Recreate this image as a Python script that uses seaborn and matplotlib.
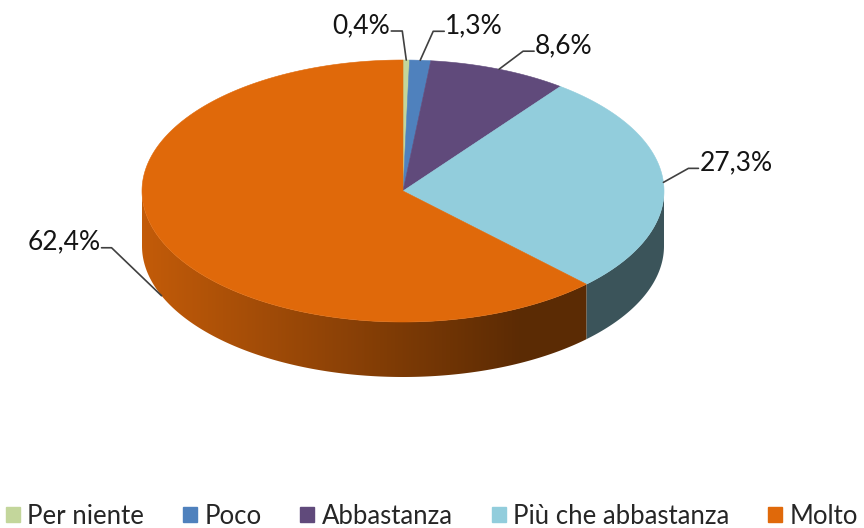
import numpy as np
import seaborn as sns
import matplotlib.pyplot as plt
from matplotlib.colors import to_rgb
from matplotlib.patches import Polygon, Patch

categories = ["Per niente", "Poco", "Abbastanza", "Più che abbastanza", "Molto"]
values = [0.4, 1.3, 8.6, 27.3, 62.4]
labels = ["0,4%", "1,3%", "8,6%", "27,3%", "62,4%"]
colors = ["#C3D69B", "#4F81BD", "#604A7B", "#92CDDC", "#E0690A"]

sns.set_style("white")
plt.rcParams["font.family"] = ["Lato", "DejaVu Sans"]

# ellipse geometry in pixel space
cx, cy, rx, ry, depth = 403, 191, 261, 131, 55
# leader elbow offsets (dx, dy) and horizontal tail, per label
elbows = [(-4, -29, -11), (13, -29, 11), (24, -18, 11), (25, -14, 10), (-50, -48, -10)]

fig = plt.figure(figsize=(8.64, 5.28), dpi=100)
ax = fig.add_axes([0, 0, 1, 1])
ax.set_xlim(0, 864)
ax.set_ylim(528, 0)
ax.axis("off")


def pt(theta, dy=0):
    t = np.radians(theta)
    return cx + rx * np.sin(t), cy - ry * np.cos(t) + dy


bounds = np.concatenate([[0], np.cumsum(values)]) / sum(values) * 360

# side walls (front half, 90..270 deg) with horizontal shading gradient
xs = np.linspace(cx - rx, cx + rx, 400)
fac = 0.87 - 0.46 * np.clip((xs - 142) / (520 - 142), 0, 1)
for i, col in enumerate(colors):
    a0, a1 = max(bounds[i], 90), min(bounds[i + 1], 270)
    if a1 <= a0:
        continue
    th = np.linspace(a0, a1, 200)
    top = [pt(t) for t in th]
    bot = [pt(t, depth) for t in th[::-1]]
    poly = Polygon(top + bot, closed=True, fc="none", ec="none")
    ax.add_patch(poly)
    img = np.array(to_rgb(col))[None, None, :] * fac[None, :, None]
    im = ax.imshow(img, extent=(cx - rx, cx + rx, cy + ry + depth + 2, cy - 2),
                   aspect="auto", interpolation="bilinear", zorder=1)
    im.set_clip_path(poly)

# top face
for i, col in enumerate(colors):
    th = np.linspace(bounds[i], bounds[i + 1], max(int(bounds[i + 1] - bounds[i]) * 2, 3))
    poly = [(cx, cy)] + [pt(t) for t in th]
    ax.add_patch(Polygon(poly, closed=True, fc=col, ec=col, lw=0.4, zorder=2))

ax.set_xlim(0, 864)
ax.set_ylim(528, 0)

# labels with leader lines
for i, lab in enumerate(labels):
    mid = (bounds[i] + bounds[i + 1]) / 2
    ax_, ay_ = pt(mid)
    if 90 < mid < 270:
        ay_ += depth
    dx, dy, tail = elbows[i]
    ex, ey = ax_ + dx, ay_ + dy
    hx = ex + tail
    ax.plot([ax_, ex, hx], [ay_, ey, ey], color="#404040", lw=1.2, zorder=3)
    ha = "left" if tail > 0 else "right"
    ax.text(hx + (1 if tail > 0 else -1), ey + 2, lab, ha=ha, va="baseline",
            fontsize=19, color="#141414", zorder=4)

handles = [Patch(fc=c, ec=c) for c in colors]
fig.legend(handles, categories, loc="lower center", bbox_to_anchor=(0.5, -0.045), ncol=5,
           frameon=False, fontsize=18.5, handlelength=0.55, handleheight=0.55,
           handletextpad=0.3, columnspacing=1.5)

fig.savefig("out.png", dpi=100)
